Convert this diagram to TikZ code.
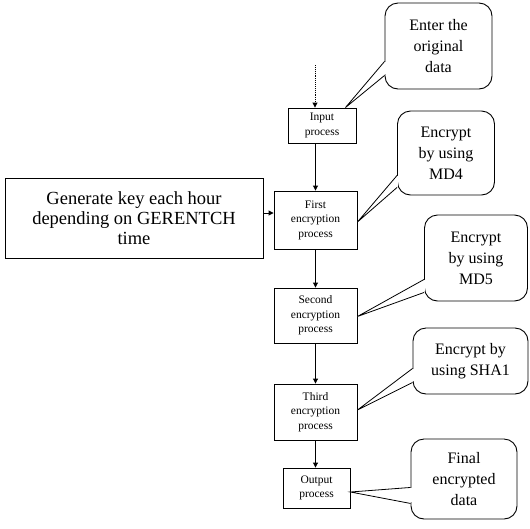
\documentclass[tikz,border=0pt]{standalone}
\usepackage{fontspec}
\setmainfont{Liberation Serif}
\usetikzlibrary{arrows.meta,calc}
\tikzset{
  procbox/.style={draw, line width=0.9pt, align=center, inner sep=0pt,
    font=\fontsize{11.5}{14.5}\selectfont},
  bigbox/.style={draw, line width=0.9pt, align=center, inner sep=0pt,
    font=\fontsize{18.5}{20}\selectfont},
  callbox/.style={draw, line width=0.9pt, rounded corners=13pt, align=center, inner sep=0pt,
    fill=white, font=\fontsize{16}{21}\selectfont},
  tail/.style={line width=0.8pt, line join=miter},
  flow/.style={line width=0.9pt, -{Triangle[length=5pt,width=5pt]}},
}
\begin{document}
\begin{tikzpicture}[x=1pt,y=-1pt]
\useasboundingbox (0,0) rectangle (530,528);
% process boxes
\node[procbox, minimum width=68pt, minimum height=35pt] (in) at (322,125.5) {Input\\process};
\node[procbox, minimum width=83pt, minimum height=58pt] (e1) at (315.5,220) {First\\encryption\\process};
\node[procbox, minimum width=83pt, minimum height=55pt] (e2) at (315.5,315.5) {Second\\encryption\\process};
\node[procbox, minimum width=83pt, minimum height=56pt] (e3) at (315.5,412) {Third\\encryption\\process};
\node[procbox, minimum width=67pt, minimum height=40pt] (out) at (316.5,488) {Output\\process};
\node[bigbox, minimum width=258pt, minimum height=80pt] (gen) at (134,218) {Generate key each hour\\depending on GERENTCH\\time};
% flow arrows
\coordinate (start) at (315,65);
\draw[flow, densely dotted] (start) -- (start |- in.north);
\draw[flow] (in.south -| e1.north) -- (e1.north);
\draw[flow] (e1.south) -- (e2.north);
\draw[flow] (e2.south) -- (e3.north);
\draw[flow] (e3.south) -- (e3.south |- out.north);
\draw[flow] (gen.east |- 0,213) -- (e1.west |- 0,213);
% callouts
\node[callbox, minimum width=107pt, minimum height=86pt] (c1) at (438.5,46) {Enter the\\original\\data};
\node[callbox, minimum width=97pt, minimum height=84pt] (c2) at (446,153) {Encrypt\\by using\\MD4};
\node[callbox, minimum width=103pt, minimum height=86pt] (c3) at (476,258) {Encrypt\\by using\\MD5};
\node[callbox, minimum width=115pt, minimum height=66pt] (c4) at (470.5,361) {Encrypt by\\using SHA1};
\node[callbox, minimum width=106pt, minimum height=80pt] (c5) at (464,479) {Final\\encrypted\\data};
% tails
\foreach \c/\tip/\ya/\yb in {c1/{($(in.north east)+(-11,0)$)}/28/14, c2/{($(e1.east)+(0,2)$)}/20/8, c3/{($(e2.east)+(0,1)$)}/22/9, c4/{($(e3.east)+(0,-2)$)}/26/12, c5/{($(out.east)+(0,4)$)}/32/16}{
  \coordinate (a) at ($(\c.south west)+(0,-\ya)$);
  \coordinate (b) at ($(\c.south west)+(0,-\yb)$);
  \fill[white] ($(a)+(-1,1)$) rectangle ($(b)+(1.2,-1)$);
  \fill[white] (a) -- \tip -- (b) -- cycle;
  \draw[tail] (a) -- \tip -- (b);
}
\end{tikzpicture}
\end{document}
